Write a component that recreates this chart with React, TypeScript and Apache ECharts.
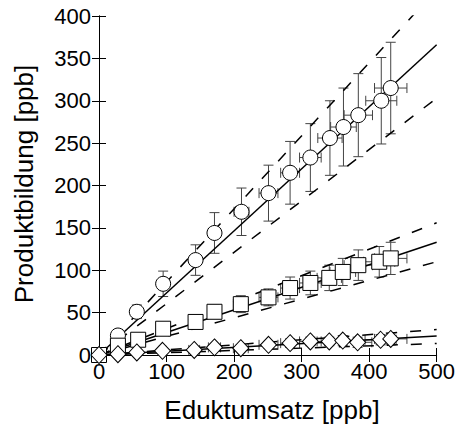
import React, { useEffect, useRef } from "react";
import * as echarts from "echarts";

// Circles (series 1)
const circleX = [0, 28, 56, 95, 143, 171, 211, 251, 283, 313, 342, 362, 384, 418, 432];
const circleY = [0, 23, 51, 84, 112, 144, 169, 191, 215, 233, 256, 269, 283, 300, 315];
const circleXErr = [0, 2, 3, 5, 8, 9, 11, 14, 14, 16, 18, 19, 21, 23, 24];
const circleYErr = [0, 5, 8, 15, 18, 24, 28, 33, 37, 40, 44, 46, 49, 51, 54];

// Squares (series 2)
const squareX = [0, 28, 58, 95, 143, 171, 210, 251, 283, 313, 341, 361, 384, 415, 432];
const squareY = [0, 11, 18, 31, 39, 51, 60, 68, 79, 85, 91, 98, 106, 110, 114];
const squareXErr = [0, 2, 3, 5, 8, 9, 11, 14, 14, 16, 18, 19, 21, 23, 24];
const squareYErr = [0, 3, 4, 6, 7, 8, 10, 10, 13, 14, 15, 16, 18, 18, 19];

// Diamonds (series 3)
const diamondX = [0, 28, 56, 94, 141, 171, 210, 251, 283, 313, 341, 361, 383, 417, 432];
const diamondY = [0, 1, 3, 5, 6, 9, 8, 12, 14, 16, 16, 17, 15, 18, 19];
const diamondXErr = [0, 2, 3, 5, 8, 9, 11, 14, 14, 16, 18, 19, 21, 23, 24];
const diamondYErr = [0, 1, 2, 2, 3, 3, 4, 4, 5, 5, 5, 6, 6, 6, 7];

// Fit lines (endpoints)
const fitX = [0, 500];
const circleFitY = [0, 366];
const circleUpperY = [0, 431];
const circleLowerY = [0, 303];
const squareFitY = [0, 133];
const squareUpperY = [0, 156];
const squareLowerY = [0, 110];
const diamondFitY = [0, 22.4];
const diamondUpperY = [0, 30];
const diamondLowerY = [0, 13.5];

const xTicks = [0, 100, 200, 300, 400, 500];
const yTicks = [0, 50, 100, 150, 200, 250, 300, 350, 400];

const FONT = "'Liberation Sans', Arial, Helvetica, sans-serif";

function zip(xs: number[], ys: number[]) {
  return xs.map((x, i) => [x, ys[i]]);
}
function zip4(xs: number[], ys: number[], ex: number[], ey: number[]) {
  return xs.map((x, i) => [x, ys[i], ex[i], ey[i]]);
}

const CAP = 5;
const ERR_COLOR = "#444";

function renderErr(params: any, api: any) {
  const x = api.value(0);
  const y = api.value(1);
  const ex = api.value(2);
  const ey = api.value(3);
  const children: any[] = [];
  const style = { stroke: ERR_COLOR, lineWidth: 1 };
  if (ey > 0) {
    const t = api.coord([x, y + ey]);
    const b = api.coord([x, y - ey]);
    children.push({ type: "line", shape: { x1: t[0], y1: t[1], x2: b[0], y2: b[1] }, style });
    children.push({ type: "line", shape: { x1: t[0] - CAP, y1: t[1], x2: t[0] + CAP, y2: t[1] }, style });
    children.push({ type: "line", shape: { x1: b[0] - CAP, y1: b[1], x2: b[0] + CAP, y2: b[1] }, style });
  }
  if (ex > 0) {
    const l = api.coord([x - ex, y]);
    const r = api.coord([x + ex, y]);
    children.push({ type: "line", shape: { x1: l[0], y1: l[1], x2: r[0], y2: r[1] }, style });
    children.push({ type: "line", shape: { x1: l[0], y1: l[1] - CAP, x2: l[0], y2: l[1] + CAP }, style });
    children.push({ type: "line", shape: { x1: r[0], y1: r[1] - CAP, x2: r[0], y2: r[1] + CAP }, style });
  }
  return { type: "group", children };
}

function errSeries(data: number[][]) {
  return {
    type: "custom",
    renderItem: renderErr,
    data,
    encode: { x: 0, y: 1 },
    z: 1,
    silent: true,
    clip: false,
  };
}

function lineSeries(ys: number[], dashed: boolean) {
  return {
    type: "line",
    data: zip(fitX, ys),
    showSymbol: false,
    symbol: "none",
    clip: true,
    z: 2,
    lineStyle: {
      color: "#000",
      width: 1.5,
      type: dashed ? [11, 13] : "solid",
    },
    silent: true,
  };
}

function scatterSeries(xs: number[], ys: number[], symbol: string, size: any) {
  return {
    type: "scatter",
    data: zip(xs, ys),
    symbol,
    symbolSize: size,
    z: 3,
    itemStyle: { color: "#fff", borderColor: "#000", borderWidth: 1, opacity: 1 },
    silent: true,
  };
}

export default function App() {
  const ref = useRef<HTMLDivElement>(null);
  useEffect(() => {
    if (!ref.current) return;
    const chart = echarts.init(ref.current, null, { renderer: "svg" });
    const axisLine = { show: true, lineStyle: { color: "#000", width: 1 } };
    const axisTick = { show: true, inside: true, length: 7, lineStyle: { color: "#000", width: 1 } };
    chart.setOption({
      animation: false,
      backgroundColor: "#fff",
      grid: { left: 99, right: 19, top: 16, bottom: 72 },
      xAxis: [
        {
          type: "value",
          min: 0,
          max: 500,
          interval: 100,
          axisLine,
          axisTick,
          splitLine: { show: false },
          axisLabel: {
            color: "#000",
            fontSize: 22,
            fontFamily: FONT,
            margin: 5,
            formatter: (v: number) => (xTicks.includes(v) ? String(v) : ""),
          },
        },
        {
          type: "value",
          position: "top",
          min: 0,
          max: 500,
          interval: 100,
          axisLine,
          axisTick,
          splitLine: { show: false },
          axisLabel: { show: false },
        },
      ],
      yAxis: [
        {
          type: "value",
          min: 0,
          max: 400,
          interval: 50,
          axisLine,
          axisTick,
          splitLine: { show: false },
          axisLabel: {
            color: "#000",
            fontSize: 22,
            fontFamily: FONT,
            margin: 8,
            padding: [6, 0, 0, 0],
            formatter: (v: number) => (yTicks.includes(v) ? String(v) : ""),
          },
        },
        {
          type: "value",
          position: "right",
          min: 0,
          max: 400,
          interval: 50,
          axisLine,
          axisTick,
          splitLine: { show: false },
          axisLabel: { show: false },
        },
      ],
      graphic: [
        {
          type: "text",
          x: 272,
          y: 410,
          style: {
            text: "Eduktumsatz [ppb]",
            fontSize: 26,
            fontFamily: FONT,
            fill: "#000",
            textAlign: "center",
            textVerticalAlign: "middle",
          },
        },
        {
          type: "text",
          x: 24,
          y: 184,
          rotation: Math.PI / 2,
          style: {
            text: "Produktbildung [ppb]",
            fontSize: 26,
            fontFamily: FONT,
            fill: "#000",
            textAlign: "center",
            textVerticalAlign: "middle",
          },
        },
      ],
      series: [
        errSeries(zip4(circleX, circleY, circleXErr, circleYErr)),
        errSeries(zip4(squareX, squareY, squareXErr, squareYErr)),
        errSeries(zip4(diamondX, diamondY, diamondXErr, diamondYErr)),
        lineSeries(circleFitY, false),
        lineSeries(circleUpperY, true),
        lineSeries(circleLowerY, true),
        lineSeries(squareFitY, false),
        lineSeries(squareUpperY, true),
        lineSeries(squareLowerY, true),
        lineSeries(diamondFitY, false),
        lineSeries(diamondUpperY, true),
        lineSeries(diamondLowerY, true),
        scatterSeries(circleX, circleY, "circle", 15),
        scatterSeries(squareX, squareY, "rect", 15),
        scatterSeries(diamondX, diamondY, "diamond", [16, 17]),
      ],
    });
    return () => chart.dispose();
  }, []);
  return (
    <div
      ref={ref}
      style={{ position: "fixed", left: 0, top: 0, width: 458, height: 427, background: "#fff" }}
    />
  );
}
